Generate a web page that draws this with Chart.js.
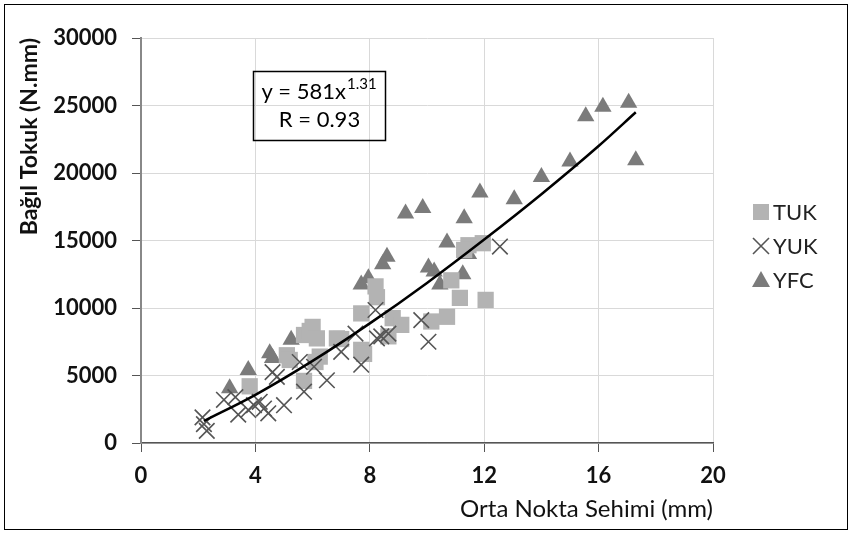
<!DOCTYPE html>
<html>
<head>
<meta charset="utf-8">
<script src="https://cdn.jsdelivr.net/npm/chart.js@4/dist/chart.umd.min.js"></script>
<style>
  body { margin: 0; background: #fff; }
  #wrap { width: 852px; height: 534px; position: relative; }
</style>
</head>
<body>
<div id="wrap"><canvas id="chart" width="852" height="534"></canvas></div>
<script>
// values
const tukX = [3.8, 5.1, 5.2, 5.7, 5.7, 5.9, 6.0, 6.15, 6.25, 6.1, 6.85, 7.0, 7.7, 7.8, 7.7, 8.2, 8.25, 8.65, 8.8, 9.1, 10.15, 10.7, 10.85, 11.15, 12.05, 11.45, 11.95, 11.3];
const tukY = [4200, 6500, 6150, 4600, 8000, 8300, 8600, 7750, 6400, 6000, 7750, 7700, 6900, 6600, 9600, 11600, 10800, 7900, 9250, 8750, 9000, 9350, 12050, 10750, 10600, 14650, 14800, 14300];

const yukX = [2.15, 2.2, 2.3, 2.9, 3.3, 3.4, 3.75, 3.95, 4.15, 4.3, 4.45, 4.6, 4.75, 5.0, 5.55, 5.7, 6.05, 6.5, 7.0, 7.5, 7.7, 8.2, 8.25, 8.4, 8.65, 9.8, 10.05, 12.55];
const yukY = [1900, 1400, 900, 3200, 3400, 2100, 2450, 2800, 3050, 2550, 2200, 5250, 4900, 2800, 6000, 3800, 5650, 4650, 6750, 8100, 5800, 9850, 7750, 7900, 8100, 9100, 7500, 14550];

const yfcX = [3.1, 3.75, 4.5, 4.6, 5.25, 7.7, 7.95, 8.45, 8.6, 9.25, 9.85, 10.05, 10.25, 10.45, 10.7, 11.3, 11.45, 11.25, 11.85, 13.05, 14.0, 15.0, 15.55, 16.15, 17.05, 17.3];
const yfcY = [4050, 5400, 6650, 6300, 7650, 11750, 12200, 13250, 13800, 17000, 17400, 13000, 12700, 11750, 14850, 16650, 14000, 12500, 18550, 18050, 19700, 20850, 24200, 24900, 25200, 20950];

// trend line y = 581x^1.31
const trendX = [2.2, 4, 6, 8, 10, 12, 14, 16, 17.3];
const trendY = [1630, 3570, 6080, 8860, 11860, 15070, 18430, 22000, 24500];

const xTicks = [0, 4, 8, 12, 16, 20];
const yTicks = [0, 5000, 10000, 15000, 20000, 25000, 30000];
const seriesNames = ["TUK", "YUK", "YFC"];

const pts = (xs, ys) => xs.map((x, i) => ({ x: x, y: ys[i] }));

const FONT = "Lato, 'Open Sans', sans-serif";
const TUK_C = "#b3b3b3", YUK_C = "#555555", YFC_C = "#7b7b7b";

const extras = {
  id: "extras",
  beforeDraw(chart) {
    const c = chart.ctx;
    c.save();
    c.fillStyle = "#fff";
    c.fillRect(0, 0, chart.width, chart.height);
    c.restore();
  },
  afterDraw(chart) {
    const c = chart.ctx;
    c.save();
    // outer frame
    c.strokeStyle = "#000";
    c.lineWidth = 1;
    c.strokeRect(4.5, 4.5, 843, 525);

    // equation box
    c.lineWidth = 1.5;
    c.strokeRect(253.5, 71.5, 132, 69);
    c.fillStyle = "#000";
    c.font = "22px " + FONT;
    c.textBaseline = "middle";
    const main = "y = 581x", sup = "1.31";
    const wMain = c.measureText(main).width;
    c.font = "15px " + FONT;
    const wSup = c.measureText(sup).width;
    const x0 = 318.5 - (wMain + wSup) / 2;
    c.font = "22px " + FONT;
    c.textAlign = "left";
    c.fillText(main, x0, 92);
    c.font = "15px " + FONT;
    c.fillText(sup, x0 + wMain + 1, 84);
    c.font = "22px " + FONT;
    c.textAlign = "center";
    c.fillText("R = 0.93", 319.5, 120);

    // legend
    const lx = 761, ly = [212, 246, 280];
    c.fillStyle = TUK_C;
    c.fillRect(lx - 8, ly[0] - 8, 16, 16);
    c.strokeStyle = YUK_C;
    c.lineWidth = 1.6;
    c.beginPath();
    c.moveTo(lx - 8, ly[1] - 8); c.lineTo(lx + 8, ly[1] + 8);
    c.moveTo(lx + 8, ly[1] - 8); c.lineTo(lx - 8, ly[1] + 8);
    c.stroke();
    c.fillStyle = YFC_C;
    c.beginPath();
    c.moveTo(lx, ly[2] - 9); c.lineTo(lx + 9, ly[2] + 7); c.lineTo(lx - 9, ly[2] + 7);
    c.closePath(); c.fill();
    c.fillStyle = "#222";
    c.font = "22px " + FONT;
    c.textAlign = "left";
    c.textBaseline = "middle";
    seriesNames.forEach((n, i) => c.fillText(n, lx + 12, ly[i] + 1));
    c.restore();
  }
};

new Chart(document.getElementById("chart"), {
  type: "scatter",
  data: {
    datasets: [
      {
        label: seriesNames[0], data: pts(tukX, tukY), order: 2,
        pointStyle: "rect", pointRadius: 11.5, backgroundColor: TUK_C, borderColor: TUK_C, borderWidth: 0
      },
      {
        label: seriesNames[1], data: pts(yukX, yukY), order: 1,
        pointStyle: "crossRot", pointRadius: 11, borderColor: YUK_C, borderWidth: 1.6
      },
      {
        label: seriesNames[2], data: pts(yfcX, yfcY), order: 3,
        pointStyle: "triangle", pointRadius: 10, backgroundColor: YFC_C, borderColor: YFC_C, borderWidth: 0
      },
      {
        label: "trend", data: pts(trendX, trendY), order: 0, type: "line",
        showLine: true, pointRadius: 0, borderColor: "#000", borderWidth: 2.5,
        cubicInterpolationMode: "monotone", fill: false
      }
    ]
  },
  options: {
    responsive: false,
    animation: false,
    events: [],
    layout: { padding: { left: 16, right: 139, top: 38, bottom: 10 } },
    plugins: { legend: { display: false }, tooltip: { enabled: false } },
    scales: {
      x: {
        type: "linear", min: 0, max: 20,
        afterBuildTicks: s => { s.ticks = xTicks.map(v => ({ value: v })); },
        afterFit: s => { s.height = 81; },
        grid: { color: "#d9d9d9", tickColor: "#555", tickLength: 9 },
        border: { color: "#555", width: 1.5 },
        ticks: { color: "#111", padding: 11, callback: v => String(v), font: { family: FONT, size: 22, weight: "bold" } },
        title: {
          display: true, text: "Orta Nokta Sehimi (mm)", align: "end",
          color: "#111", padding: 0, font: { family: FONT, size: 24 }
        }
      },
      y: {
        type: "linear", min: 0, max: 30000,
        afterBuildTicks: s => { s.ticks = yTicks.map(v => ({ value: v })); },
        afterFit: s => { s.width = 125; },
        grid: { color: "#d9d9d9", tickColor: "#555", tickLength: 9 },
        border: { color: "#888", width: 2 },
        ticks: { color: "#111", padding: 15, callback: v => String(v), font: { family: FONT, size: 22, weight: "bold" } },
        title: {
          display: true, text: "Bağıl Tokuk (N.mm)", align: "end",
          color: "#111", padding: 0, font: { family: FONT, size: 23, weight: "bold" }
        }
      }
    }
  },
  plugins: [extras]
});
</script>
</body>
</html>
